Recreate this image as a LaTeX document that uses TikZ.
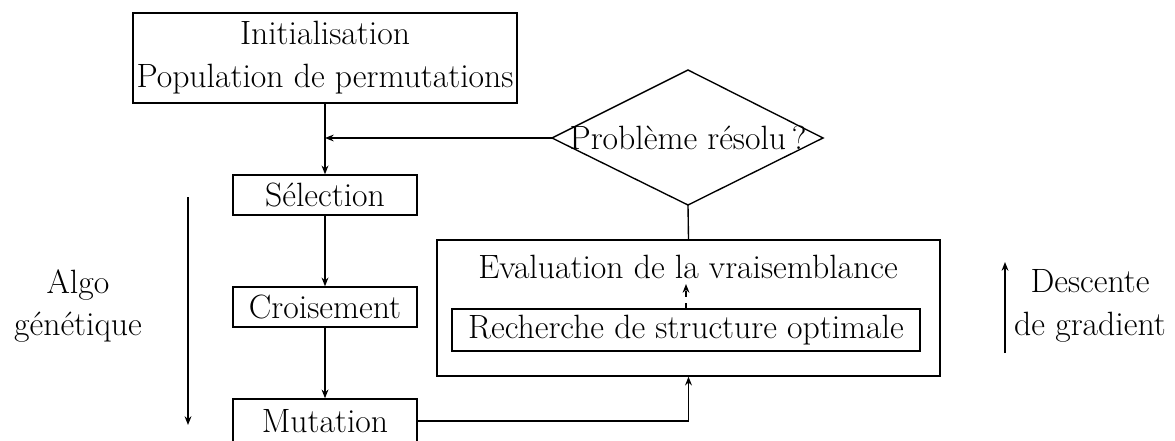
\documentclass[tikz,border=0pt]{standalone}
\usetikzlibrary{arrows.meta}
\begin{document}
\begin{tikzpicture}[x=0.5128pt,y=-0.5128pt,
  font=\fontsize{17.28}{22}\selectfont,
  line width=0.7pt,
  arr/.style={-{Stealth[length=4.5pt,width=3.5pt]}},
  box/.style={draw,rectangle,inner sep=0pt,align=center}]
\useasboundingbox (0,0) rectangle (1175,441);
\node[box,minimum width=196.9pt,minimum height=46.2pt] (init) at (325,58) {Initialisation\\Population de permutations};
\node[box,minimum width=94.4pt,minimum height=20.5pt] (sel) at (325,195) {Sélection};
\node[box,minimum width=94.4pt,minimum height=20.5pt] (crois) at (325,307) {Croisement};
\node[box,minimum width=94.4pt,minimum height=22.6pt] (mut) at (325,421) {Mutation};
\coordinate (dt) at (688,70);
\coordinate (db) at (688,205);
\coordinate (dl) at (552,138);
\coordinate (dr) at (823,138);
\node (dec) at (688,138) {Problème résolu\,?};
\draw (dl) -- (dt) -- (dr) -- (db) -- cycle;
\coordinate (j) at (325,138);
\node[box,minimum width=258pt,minimum height=69.7pt] (eval) at (688.5,308) {};
\node (evt) at (688,267) {Evaluation de la vraisemblance};
\node[box,minimum width=240pt,minimum height=21.5pt] (rech) at (686,330) {Recherche de structure optimale};
\coordinate (rt) at (686,284);
\draw[arr] (init.south) -- (sel.north);
\draw[arr] (dl) -- (j);
\draw[arr] (sel.south) -- (crois.north);
\draw[arr] (crois.south) -- (mut.north);
\draw[arr] (mut.east) -| (eval.south);
\draw (db) -- (eval.north);
\draw[arr,dashed] (rech.north) -- (rt);
\coordinate (la1) at (188,197);
\coordinate (la2) at (188,425);
\draw[arr] (la1) -- (la2);
\node[align=center] (algo) at (78,306) {Algo\\génétique};
\coordinate (ra1) at (1005,353);
\coordinate (ra2) at (1005,262);
\draw[arr] (ra1) -- (ra2);
\node[align=center] (desc) at (1090,306) {Descente\\de gradient};
\end{tikzpicture}
\end{document}
